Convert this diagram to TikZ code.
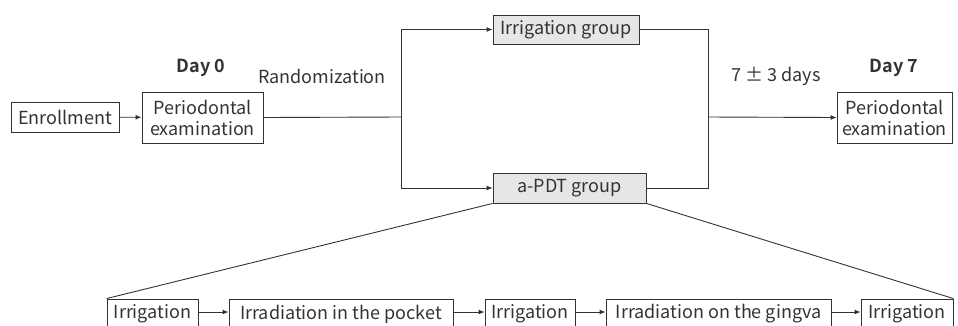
\documentclass[tikz,border=0pt]{standalone}
\usepackage{fontspec}
\setmainfont{Noto Sans CJK JP}[BoldFont={Noto Sans CJK JP Bold}]
\usetikzlibrary{arrows.meta,calc}
\definecolor{ink}{HTML}{333333}
\definecolor{grp}{HTML}{E6E6E6}
\tikzset{
  box/.style={draw=ink, line width=0.9pt, text=ink, inner sep=0pt, align=center, font=\fontsize{18}{21}\selectfont},
  gbox/.style={box, fill=grp},
  conn/.style={draw=ink, line width=0.9pt},
  arr/.style={conn, -{Latex[length=6pt,width=5pt]}},
  lbl/.style={text=ink, inner sep=0pt, font=\fontsize{18}{21}\selectfont},
}
\begin{document}
\begin{tikzpicture}[x=1pt,y=-1pt]
\useasboundingbox (0,0) rectangle (958,325);
\node[box, minimum width=108pt, minimum height=30pt] (enroll) at (65,117) {Enrollment};
\node[box, minimum width=121pt, minimum height=51pt] (exam0) at (202.5,117.5) {Periodontal\\examination};
\node[gbox, minimum width=146pt, minimum height=29pt] (irrg) at (566,29.5) {Irrigation group};
\node[gbox, minimum width=153pt, minimum height=30pt] (pdt) at (569.5,188) {a-PDT group};
\node[box, minimum width=115pt, minimum height=51pt] (exam7) at (894.5,117.5) {Periodontal\\examination};

\node[box, minimum width=91pt, minimum height=30pt] (i1) at (152.5,314) {Irrigation};
\node[box, minimum width=224pt, minimum height=30pt] (pk) at (341,314) {Irradiation in the pocket};
\node[box, minimum width=90pt, minimum height=30pt] (i2) at (530,314) {Irrigation};
\node[box, minimum width=225pt, minimum height=30pt] (gg) at (718.5,314) {Irradiation on the gingva};
\node[box, minimum width=92pt, minimum height=30pt] (i3) at (907,314) {Irrigation};

\node[lbl, font=\fontsize{18}{21}\selectfont\bfseries] (d0) at (201,68) {Day 0};
\node[lbl] (rand) at (322,76) {Randomization};
\node[lbl] (days) at (776,76) {7 ± 3 days};
\node[lbl, font=\fontsize{18}{21}\selectfont\bfseries] (d7) at (894,68) {Day 7};

\coordinate (jl) at (401,117);
\coordinate (jr) at (708,117);

\draw[arr] (enroll) -- (exam0);
\draw[conn] (exam0.east) -- (jl);
\draw[arr] (jl) |- (irrg.west);
\draw[arr] (jl) |- (pdt.west);
\draw[conn] (irrg.east) -| (jr);
\draw[conn] (pdt.east) -| (jr);
\draw[arr] (jr) -- (exam7.west);

\draw[conn] (pdt.south west) -- (i1.north west);
\draw[conn] (pdt.south east) -- (i3.north east);

\draw[arr] (i1.east |- 0,312) -- (pk.west |- 0,312);
\draw[arr] (pk.east |- 0,312) -- (i2.west |- 0,312);
\draw[arr] (i2.east |- 0,312) -- (gg.west |- 0,312);
\draw[arr] (gg.east |- 0,312) -- (i3.west |- 0,312);
\end{tikzpicture}
\end{document}
